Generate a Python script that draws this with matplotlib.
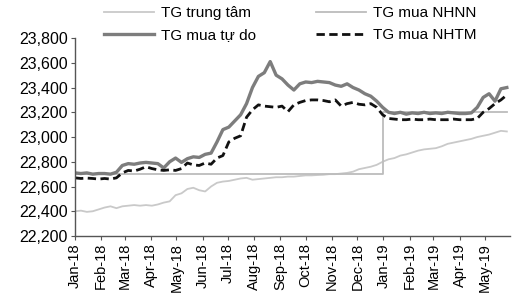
import matplotlib
matplotlib.use("Agg")
import matplotlib.pyplot as plt
import matplotlib.dates as mdates
import pandas as pd

plt.rcParams['font.family'] = ['Liberation Sans', 'DejaVu Sans']

# weekly observation dates (Mondays), Jan-2018 .. May-2019
dates = pd.date_range("2018-01-01", periods=74, freq="7D")

tg_trung_tam = [22400, 22405, 22395, 22400, 22415, 22430, 22440, 22425, 22440, 22445,
                22450, 22445, 22450, 22445, 22455, 22470, 22480, 22530, 22545, 22580,
                22590, 22570, 22560, 22600, 22630, 22640, 22645, 22655, 22665, 22670,
                22655, 22660, 22665, 22670, 22675, 22675, 22680, 22680, 22685, 22690,
                22690, 22693, 22695, 22700, 22700, 22705, 22710, 22720, 22740, 22750,
                22760, 22775, 22800, 22820, 22830, 22850, 22860, 22875, 22890, 22900,
                22905, 22910, 22925, 22945, 22955, 22965, 22975, 22985, 23000, 23010,
                23020, 23035, 23050, 23045]

tg_mua_nhnn = [22700] * 52 + [23200] * 22

tg_mua_tu_do = [22710, 22705, 22710, 22700, 22705, 22705, 22700, 22715, 22770, 22785,
                22780, 22790, 22795, 22790, 22785, 22750, 22800, 22830, 22795, 22825,
                22840, 22835, 22860, 22870, 22960, 23060, 23080, 23130, 23180, 23270,
                23400, 23490, 23520, 23610, 23500, 23470, 23420, 23380, 23430, 23445,
                23440, 23450, 23445, 23440, 23420, 23410, 23430, 23400, 23380, 23350,
                23330, 23290, 23240, 23200, 23190, 23200, 23185, 23195, 23190, 23200,
                23190, 23195, 23190, 23200, 23195, 23190, 23190, 23195, 23240, 23320,
                23350, 23290, 23390, 23400]

tg_mua_nhtm = [22670, 22665, 22668, 22665, 22660, 22665, 22660, 22670, 22710, 22730,
               22725, 22740, 22760, 22745, 22735, 22730, 22735, 22730, 22745, 22790,
               22775, 22770, 22790, 22780, 22830, 22850, 22960, 22990, 23010, 23160,
               23220, 23260, 23250, 23245, 23240, 23250, 23205, 23260, 23280, 23295,
               23300, 23300, 23295, 23285, 23300, 23250, 23270, 23280, 23265, 23260,
               23270, 23240, 23180, 23150, 23145, 23140, 23140, 23145, 23140, 23140,
               23145, 23140, 23140, 23140, 23145, 23140, 23140, 23140, 23150, 23200,
               23230, 23270, 23300, 23340]

yticks = [22200, 22400, 22600, 22800, 23000, 23200, 23400, 23600, 23800]

fig = plt.figure(figsize=(5.12, 2.95), dpi=100)
ax = fig.add_axes([0.1465, 0.2, 0.85, 0.671])

l1, = ax.plot(dates, tg_trung_tam, color="#c9c9c9", lw=1.3, label="TG trung tâm")
l2, = ax.plot(dates, tg_mua_nhnn, color="#bcbcbc", lw=1.3, drawstyle="steps-post", label="TG mua NHNN")
l3, = ax.plot(dates, tg_mua_tu_do, color="#7d7d7d", lw=2.4, label="TG mua tự do")
l4, = ax.plot(dates, tg_mua_nhtm, color="#111111", lw=2.0, ls=(0, (3, 1.6)), label="TG mua NHTM")

ax.set_ylim(22200, 23800)
ax.set_yticks(yticks)
ax.set_yticklabels([f"{v:,}" for v in yticks])
ax.set_xlim(pd.Timestamp("2018-01-01"), pd.Timestamp("2019-05-31"))
ax.xaxis.set_major_locator(mdates.MonthLocator())
ax.xaxis.set_major_formatter(mdates.DateFormatter("%b-%y"))
for lab in ax.get_xticklabels():
    lab.set_rotation(90)

for s in ["top", "right"]:
    ax.spines[s].set_visible(False)
for s in ["left", "bottom"]:
    ax.spines[s].set_color("#555555")
    ax.spines[s].set_linewidth(1.0)
ax.tick_params(axis="y", labelsize=11.5, length=3, color="#555555", pad=2)
ax.tick_params(axis="x", labelsize=10.5, length=3, color="#555555", pad=2)

fig.legend(handles=[l1, l3, l2, l4], ncol=2, loc="upper left",
           bbox_to_anchor=(0.176, 1.025), frameon=False, fontsize=11,
           handlelength=3.3, handletextpad=0.45, columnspacing=3.9,
           labelspacing=0.5)

fig.savefig("out.png", dpi=100)
